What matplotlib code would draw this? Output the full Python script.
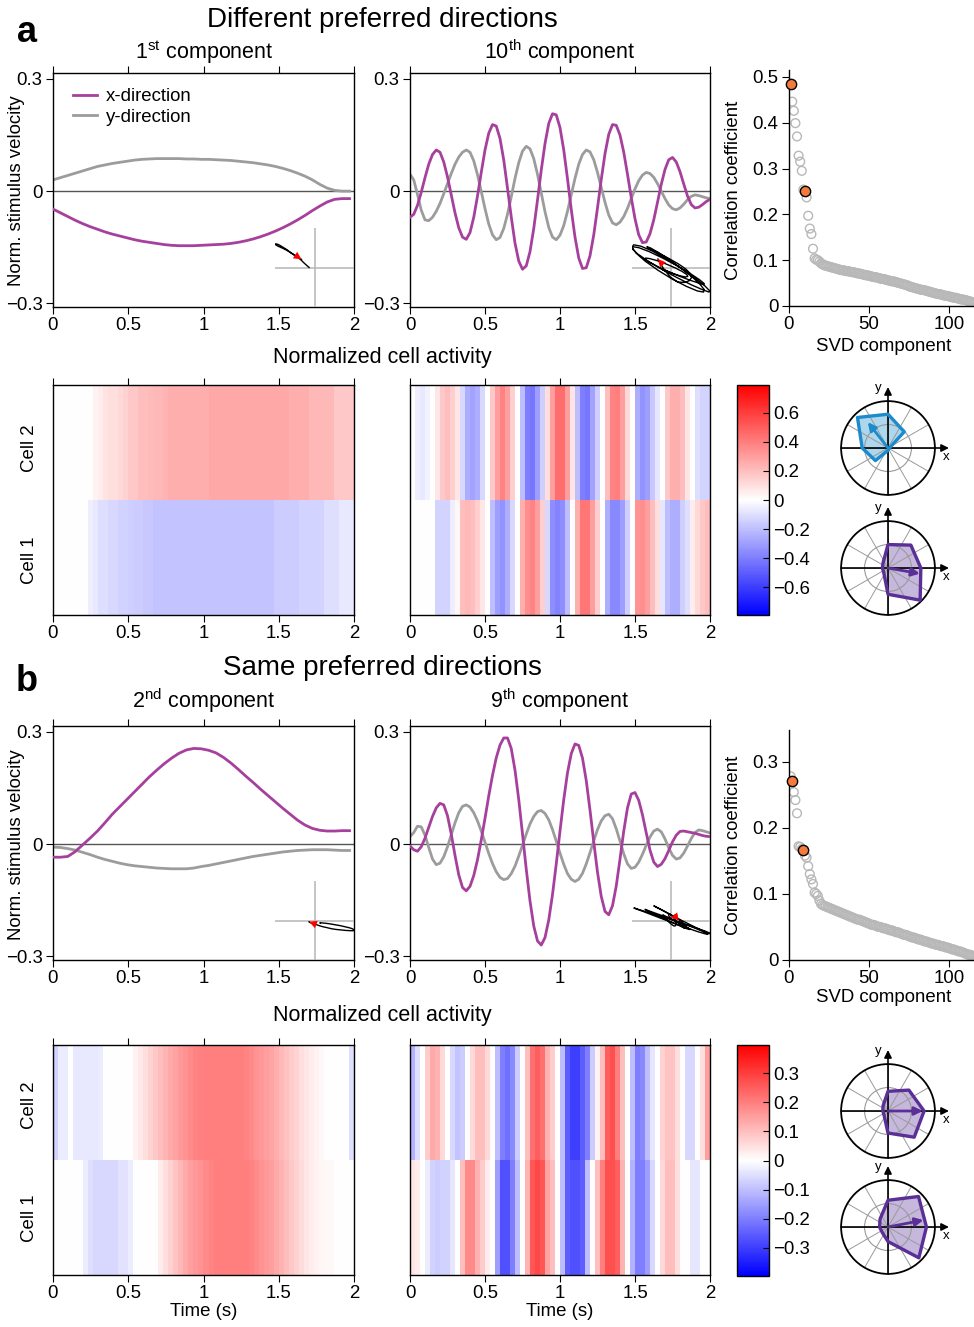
import numpy as np
import matplotlib
matplotlib.use("Agg")
import matplotlib.pyplot as plt
from matplotlib.ticker import FuncFormatter
from matplotlib.patches import Circle, Polygon

# ---------------------------------------------------------------
# data
# ---------------------------------------------------------------
t_slow = np.linspace(0, 1.97, 41)      # 1st / 2nd component sampling
t_fast = np.linspace(0, 2.0, 81)       # 10th / 9th component sampling

a1_x = [-0.048, -0.058, -0.068, -0.078, -0.087, -0.095, -0.102, -0.109, -0.115, -0.120,
        -0.125, -0.130, -0.134, -0.137, -0.140, -0.143, -0.145, -0.146, -0.146, -0.146,
        -0.145, -0.144, -0.143, -0.142, -0.140, -0.137, -0.133, -0.128, -0.122, -0.115,
        -0.107, -0.098, -0.088, -0.077, -0.065, -0.052, -0.040, -0.029, -0.022, -0.020,
        -0.020]
a1_y = [0.030, 0.036, 0.042, 0.048, 0.054, 0.060, 0.066, 0.070, 0.074, 0.077,
        0.080, 0.083, 0.085, 0.086, 0.087, 0.087, 0.087, 0.087, 0.086, 0.086,
        0.085, 0.085, 0.084, 0.083, 0.082, 0.080, 0.078, 0.076, 0.073, 0.070,
        0.066, 0.061, 0.055, 0.048, 0.040, 0.030, 0.018, 0.008, 0.002, 0.000,
        0.000]

a10_x = [-0.070, -0.062, -0.038, -0.003, 0.036, 0.072, 0.098, 0.110,
         0.104, 0.078, 0.038, -0.010, -0.058, -0.098, -0.123, -0.129,
         -0.111, -0.070, -0.013, 0.050, 0.110, 0.155, 0.178, 0.174,
         0.141, 0.083, 0.008, -0.069, -0.139, -0.187, -0.209, -0.200,
         -0.162, -0.100, -0.024, 0.056, 0.127, 0.181, 0.207, 0.204,
         0.170, 0.110, 0.033, -0.049, -0.123, -0.179, -0.207, -0.205,
         -0.173, -0.117, -0.045, 0.031, 0.100, 0.152, 0.178, 0.176,
         0.150, 0.104, 0.045, -0.017, -0.074, -0.117, -0.138, -0.136,
         -0.114, -0.077, -0.030, 0.018, 0.058, 0.084, 0.090, 0.078,
         0.052, 0.019, -0.013, -0.036, -0.045, -0.043, -0.036, -0.028,
         -0.022]
a10_y = [0.045, 0.030, -0.009, -0.051, -0.077, -0.079, -0.070, -0.054,
         -0.033, -0.007, 0.020, 0.047, 0.072, 0.091, 0.104, 0.110,
         0.104, 0.081, 0.044, -0.001, -0.047, -0.088, -0.117, -0.130,
         -0.124, -0.100, -0.062, -0.015, 0.034, 0.076, 0.107, 0.120,
         0.113, 0.087, 0.045, -0.005, -0.055, -0.097, -0.123, -0.130,
         -0.118, -0.092, -0.054, -0.010, 0.034, 0.072, 0.098, 0.110,
         0.105, 0.084, 0.050, 0.010, -0.030, -0.064, -0.085, -0.090,
         -0.083, -0.068, -0.046, -0.020, 0.006, 0.028, 0.043, 0.050,
         0.047, 0.037, 0.020, 0.000, -0.020, -0.037, -0.047, -0.050,
         -0.045, -0.035, -0.023, -0.014, -0.010, -0.012, -0.015, -0.018,
         -0.020]

b2_x = [-0.035, -0.035, -0.033, -0.020, -0.002, 0.016, 0.035, 0.057, 0.080, 0.100,
        0.120, 0.140, 0.160, 0.180, 0.198, 0.215, 0.230, 0.243, 0.252, 0.256,
        0.255, 0.251, 0.244, 0.232, 0.217, 0.200, 0.182, 0.165, 0.147, 0.130,
        0.113, 0.096, 0.080, 0.064, 0.051, 0.042, 0.037, 0.035, 0.035, 0.036,
        0.036]
b2_y = [-0.008, -0.009, -0.012, -0.016, -0.022, -0.028, -0.035, -0.041, -0.046, -0.051,
        -0.055, -0.058, -0.060, -0.062, -0.064, -0.065, -0.066, -0.066, -0.066, -0.064,
        -0.060, -0.057, -0.053, -0.049, -0.045, -0.041, -0.037, -0.033, -0.030, -0.027,
        -0.024, -0.021, -0.019, -0.017, -0.016, -0.015, -0.015, -0.015, -0.016, -0.017,
        -0.017]

b9_x = [-0.005, -0.015, -0.019, -0.007, 0.016, 0.045, 0.074, 0.097,
        0.109, 0.105, 0.076, 0.027, -0.030, -0.082, -0.116, -0.125,
        -0.113, -0.084, -0.042, 0.011, 0.069, 0.129, 0.184, 0.231,
        0.265, 0.284, 0.284, 0.256, 0.198, 0.119, 0.027, -0.067,
        -0.152, -0.219, -0.259, -0.270, -0.250, -0.203, -0.135, -0.053,
        0.035, 0.119, 0.191, 0.242, 0.268, 0.264, 0.230, 0.170,
        0.091, 0.006, -0.075, -0.140, -0.180, -0.189, -0.165, -0.112,
        -0.040, 0.035, 0.097, 0.134, 0.138, 0.117, 0.078, 0.030,
        -0.016, -0.048, -0.060, -0.054, -0.039, -0.017, 0.006, 0.024,
        0.034, 0.035, 0.033, 0.031, 0.029, 0.026, 0.023, 0.021,
        0.020]
b9_y = [0.020, 0.031, 0.048, 0.046, 0.024, -0.009, -0.040, -0.055,
        -0.051, -0.034, -0.007, 0.025, 0.057, 0.084, 0.101, 0.105,
        0.099, 0.084, 0.062, 0.035, 0.005, -0.025, -0.052, -0.074,
        -0.089, -0.095, -0.092, -0.079, -0.059, -0.032, -0.003, 0.027,
        0.054, 0.074, 0.087, 0.090, 0.082, 0.065, 0.039, 0.008,
        -0.024, -0.054, -0.079, -0.094, -0.100, -0.094, -0.078, -0.053,
        -0.023, 0.009, 0.039, 0.062, 0.076, 0.080, 0.068, 0.041,
        0.008, -0.026, -0.053, -0.065, -0.062, -0.048, -0.027, -0.003,
        0.019, 0.035, 0.040, 0.033, 0.014, -0.010, -0.030, -0.040,
        -0.037, -0.024, -0.005, 0.015, 0.031, 0.038, 0.036, 0.033,
        0.030]

# normalized cell activity, 60 bins of 1/30 s
t_bins = np.linspace(0, 2, 61)
ha1_cell2 = [0, 0, 0, 0, 0, 0, 0, 0, 0.04, 0.06,
             0.09, 0.10, 0.10, 0.12, 0.14, 0.17, 0.17, 0.20, 0.20, 0.21,
             0.22, 0.22, 0.23, 0.25, 0.25, 0.25, 0.25, 0.25, 0.25, 0.25,
             0.25, 0.27, 0.27, 0.27, 0.27, 0.27, 0.27, 0.27, 0.27, 0.27,
             0.27, 0.27, 0.27, 0.27, 0.27, 0.27, 0.27, 0.25, 0.25, 0.25,
             0.25, 0.22, 0.22, 0.22, 0.22, 0.22, 0.17, 0.17, 0.17, 0.17]
ha1_cell1 = [0, 0, 0, 0, 0, 0, 0, -0.05, -0.07, -0.10,
             -0.10, -0.12, -0.12, -0.14, -0.14, -0.15, -0.16, -0.16, -0.17, -0.17,
             -0.18, -0.18, -0.18, -0.18, -0.18, -0.18, -0.18, -0.18, -0.18, -0.18,
             -0.18, -0.18, -0.18, -0.18, -0.18, -0.18, -0.18, -0.18, -0.18, -0.18,
             -0.18, -0.18, -0.18, -0.18, -0.16, -0.16, -0.16, -0.16, -0.16, -0.13,
             -0.13, -0.13, -0.13, -0.13, -0.10, -0.10, -0.10, -0.07, -0.07, -0.07]
ha10_cell2 = [0.00, -0.05, -0.07, -0.04, 0.00, 0.08, 0.17, 0.20, 0.15, 0.08,
              -0.12, -0.25, -0.28, -0.25, -0.12, 0.00, 0.17, 0.30, 0.38, 0.30,
              0.15, 0.00, -0.20, -0.40, -0.42, -0.30, -0.15, 0.10, 0.30, 0.45,
              0.45, 0.30, 0.08, -0.20, -0.40, -0.42, -0.28, -0.15, 0.00, 0.20,
              0.38, 0.40, 0.30, 0.12, 0.00, -0.25, -0.33, -0.30, -0.17, -0.08,
              0.00, 0.17, 0.25, 0.25, 0.20, 0.08, 0.00, -0.10, -0.13, -0.13]
ha10_cell1 = [0, 0, 0, 0, 0, -0.13, -0.13, -0.13, -0.05, 0.03,
              0.20, 0.22, 0.20, 0.15, 0.08, 0.00, -0.20, -0.30, -0.33, -0.25,
              -0.12, 0.00, 0.25, 0.35, 0.38, 0.30, 0.15, -0.12, -0.35, -0.38,
              -0.35, -0.20, 0.00, 0.25, 0.42, 0.42, 0.30, 0.15, 0.00, -0.25,
              -0.37, -0.37, -0.30, -0.15, 0.00, 0.33, 0.35, 0.30, 0.20, 0.10,
              -0.08, -0.20, -0.25, -0.25, -0.15, -0.10, 0.06, 0.12, 0.17, 0.20]
hb2_cell2 = [-0.07, -0.03, -0.03, 0.00, -0.035, -0.035, -0.035, -0.035, -0.035, -0.03,
             0, 0, 0, 0, 0, 0, 0.02, 0.035, 0.05, 0.07,
             0.085, 0.10, 0.115, 0.13, 0.145, 0.16, 0.17, 0.18, 0.19, 0.195,
             0.20, 0.20, 0.20, 0.20, 0.20, 0.20, 0.20, 0.20, 0.19, 0.18,
             0.17, 0.16, 0.15, 0.14, 0.125, 0.11, 0.095, 0.08, 0.065, 0.05,
             0.04, 0.03, 0.02, 0.01, 0, 0, 0, 0, 0, -0.05]
hb2_cell1 = [0, 0, 0, 0, 0, 0, -0.03, -0.05, -0.06, -0.06,
             -0.06, -0.06, -0.06, -0.045, -0.045, -0.03, 0, 0, 0, 0,
             0, 0.03, 0.05, 0.07, 0.09, 0.11, 0.13, 0.15, 0.16, 0.17,
             0.18, 0.19, 0.20, 0.20, 0.20, 0.20, 0.20, 0.20, 0.20, 0.19,
             0.18, 0.17, 0.16, 0.15, 0.13, 0.12, 0.10, 0.085, 0.07, 0.055,
             0.04, 0.03, 0.02, 0.015, 0.01, 0.01, 0, 0, 0, 0]
hb9_cell2 = [-0.12, -0.05, 0.00, 0.08, 0.13, 0.12, 0.06, 0.00, -0.06, -0.09,
             -0.08, 0.00, 0.06, 0.10, 0.10, 0.06, 0.00, -0.10, -0.20, -0.22,
             -0.18, -0.08, 0.00, 0.10, 0.22, 0.25, 0.22, 0.12, 0.08, 0.00,
             -0.10, -0.25, -0.30, -0.30, -0.25, -0.20, -0.08, 0.02, 0.10, 0.25,
             0.27, 0.20, 0.10, 0.00, -0.10, -0.20, -0.18, -0.10, -0.04, 0.00,
             0.07, 0.09, 0.09, 0.05, 0.00, -0.06, -0.06, 0.00, 0.05, 0.15]
hb9_cell1 = [0.04, 0.03, 0.00, -0.03, -0.07, -0.08, -0.07, -0.07, -0.04, 0.00,
             0.10, 0.18, 0.18, 0.12, 0.08, 0.03, 0.00, -0.15, -0.27, -0.27,
             -0.20, -0.10, 0.00, 0.12, 0.26, 0.28, 0.26, 0.14, 0.10, 0.00,
             -0.10, -0.25, -0.27, -0.27, -0.25, -0.10, 0.00, 0.10, 0.20, 0.27,
             0.27, 0.25, 0.12, 0.00, -0.12, -0.20, -0.20, -0.15, -0.06, 0.00,
             0.06, 0.10, 0.10, 0.05, 0.00, 0.00, -0.04, -0.04, 0.00, 0.00]

# correlation coefficient per SVD component (1..120)
svd_comp = np.arange(1, 121)
corr_a = [0.485, 0.446, 0.426, 0.399, 0.370, 0.328, 0.315, 0.295, 0.254, 0.250,
          0.237, 0.197, 0.169, 0.157, 0.125, 0.104, 0.101, 0.100, 0.097, 0.093,
          0.091, 0.089, 0.088, 0.087, 0.086, 0.085, 0.084, 0.083, 0.082, 0.081,
          0.080, 0.079, 0.078, 0.078, 0.077, 0.076, 0.076, 0.075, 0.074, 0.074,
          0.073, 0.072, 0.071, 0.071, 0.070, 0.069, 0.068, 0.067, 0.067, 0.066,
          0.065, 0.064, 0.063, 0.063, 0.062, 0.061, 0.060, 0.059, 0.059, 0.058,
          0.057, 0.056, 0.055, 0.054, 0.054, 0.053, 0.052, 0.051, 0.050, 0.049,
          0.048, 0.047, 0.046, 0.045, 0.043, 0.042, 0.041, 0.040, 0.039, 0.038,
          0.037, 0.036, 0.035, 0.035, 0.034, 0.033, 0.032, 0.031, 0.030, 0.029,
          0.028, 0.027, 0.026, 0.026, 0.025, 0.024, 0.023, 0.022, 0.022, 0.021,
          0.020, 0.019, 0.018, 0.018, 0.017, 0.016, 0.015, 0.014, 0.014, 0.013,
          0.012, 0.011, 0.010, 0.009, 0.008, 0.007, 0.006, 0.005, 0.004, 0.003]
corr_b = [0.278, 0.271, 0.254, 0.242, 0.222, 0.172, 0.171, 0.168, 0.166, 0.158,
          0.155, 0.142, 0.130, 0.122, 0.115, 0.102, 0.100, 0.097, 0.090, 0.085,
          0.083, 0.082, 0.081, 0.080, 0.079, 0.078, 0.077, 0.076, 0.075, 0.074,
          0.073, 0.072, 0.071, 0.070, 0.069, 0.068, 0.067, 0.066, 0.065, 0.064,
          0.063, 0.062, 0.061, 0.061, 0.060, 0.059, 0.058, 0.057, 0.056, 0.055,
          0.054, 0.053, 0.053, 0.052, 0.051, 0.050, 0.050, 0.049, 0.048, 0.048,
          0.047, 0.046, 0.045, 0.045, 0.044, 0.043, 0.042, 0.042, 0.041, 0.040,
          0.039, 0.038, 0.038, 0.037, 0.036, 0.035, 0.034, 0.034, 0.033, 0.032,
          0.031, 0.031, 0.030, 0.029, 0.028, 0.028, 0.027, 0.026, 0.025, 0.025,
          0.024, 0.023, 0.023, 0.022, 0.021, 0.021, 0.020, 0.019, 0.019, 0.018,
          0.017, 0.016, 0.016, 0.015, 0.014, 0.013, 0.013, 0.012, 0.011, 0.010,
          0.009, 0.008, 0.008, 0.007, 0.006, 0.005, 0.004, 0.004, 0.003, 0.002]
sel_a = [1, 10]
sel_b = [2, 9]

# directional tuning (8 directions, normalised radius) + preferred-direction vector
tune_dirs = [0, 45, 90, 135, 180, 225, 270, 315]
tune_a_cell2 = [0.03, 0.49, 0.72, 0.92, 0.55, 0.38, 0.05, 0.02]
tune_a_cell1 = [0.70, 0.69, 0.50, 0.15, 0.12, 0.13, 0.56, 0.97]
tune_b_cell2 = [0.77, 0.63, 0.42, 0.15, 0.11, 0.12, 0.47, 0.79]
tune_b_cell1 = [0.82, 0.92, 0.57, 0.24, 0.18, 0.17, 0.31, 0.93]
pref_a_cell2 = (128, 0.70)
pref_a_cell1 = (-10, 0.69)
pref_b_cell2 = (0, 0.74)
pref_b_cell1 = (11, 0.77)

# ---------------------------------------------------------------
# style
# ---------------------------------------------------------------
plt.rcParams.update({
    "font.family": ["Liberation Sans", "DejaVu Sans"],
    "font.size": 13.4,
    "mathtext.fontset": "custom",
    "mathtext.rm": "Liberation Sans",
    "mathtext.it": "Liberation Sans:italic",
    "mathtext.bf": "Liberation Sans:bold",
    "axes.linewidth": 1.0,
    "xtick.direction": "out",
    "ytick.direction": "out",
    "xtick.major.size": 5,
    "ytick.major.size": 5,
    "xtick.major.pad": 2.5,
    "ytick.major.pad": 2.5,
})

MAG = "#a6409c"
GRY = "#9c9c9c"
ORANGE = "#f47b3b"

W, H = 974, 1327
fig = plt.figure(figsize=(W / 100, H / 100), dpi=100)


def box(x0, y0, x1, y1):
    return [x0 / W, 1 - y1 / H, (x1 - x0) / W, (y1 - y0) / H]


def fmt(v, pos=None):
    s = f"{round(v, 6):g}"
    if s == "-0":
        s = "0"
    return s.replace("-", "\u2212")


def line_panel(rect, t, vx, vy, legend=False):
    ax = fig.add_axes(rect)
    ax.axhline(0, color="#555555", lw=1.0, zorder=1)
    ax.plot(t, vy, color=GRY, lw=2.0, label="y-direction", zorder=2)
    ax.plot(t, vx, color=MAG, lw=2.0, label="x-direction", zorder=3)
    ax.set_xlim(0, 2)
    ax.set_ylim(-0.31, 0.316)
    ax.set_xticks([0, 0.5, 1, 1.5, 2])
    ax.set_yticks([-0.3, 0, 0.3])
    ax.xaxis.set_major_formatter(FuncFormatter(fmt))
    ax.yaxis.set_major_formatter(FuncFormatter(fmt))
    ax.tick_params(top=True, labeltop=False)
    if legend:
        h, l = ax.get_legend_handles_labels()
        ax.legend(h[::-1], l[::-1], loc="upper left", bbox_to_anchor=(0.065, 0.935),
                  frameon=False, borderpad=0, borderaxespad=0, handlelength=1.3,
                  handletextpad=0.5, labelspacing=0.2)
    return ax


def traj_inset(rect, vx, vy):
    ax = fig.add_axes(rect)
    ax.patch.set_alpha(0)
    ax.axis("off")
    vx = np.asarray(vx)
    vy = np.asarray(vy)
    lim = max(np.abs(vx).max(), np.abs(vy).max())
    ax.axhline(0, color="#b5b5b5", lw=1.1)
    ax.axvline(0, color="#b5b5b5", lw=1.1)
    ax.plot(vx, vy, color="black", lw=1.0)
    k = 4 if len(vx) > 60 else 6
    ax.annotate("", xy=(vx[0], vy[0]), xytext=(vx[k], vy[k]),
                arrowprops=dict(arrowstyle="-|>", color="red", lw=0,
                                mutation_scale=14, shrinkA=0, shrinkB=0))
    ax.set_xlim(-lim, lim)
    ax.set_ylim(-lim, lim)


def heat_panel(rect, cell1, cell2, vlim):
    ax = fig.add_axes(rect)
    im = ax.imshow(np.array([cell1, cell2]), origin="lower", aspect="auto",
                   extent=(t_bins[0], t_bins[-1], 0, 2), cmap="bwr",
                   vmin=-vlim, vmax=vlim, interpolation="nearest")
    ax.set_xticks([0, 0.5, 1, 1.5, 2])
    ax.xaxis.set_major_formatter(FuncFormatter(fmt))
    ax.set_yticks([])
    ax.tick_params(top=True, labeltop=False)
    return ax, im


def colorbar(rect, im, ticks):
    cax = fig.add_axes(rect)
    cb = fig.colorbar(im, cax=cax)
    cb.set_ticks(ticks)
    cb.ax.yaxis.set_major_formatter(FuncFormatter(fmt))
    cb.ax.tick_params(direction="in", length=4, pad=3)
    cb.outline.set_linewidth(1.0)


def scatter_panel(rect, corr, sel, ytop, yticks):
    ax = fig.add_axes(rect)
    ax.scatter(svd_comp, corr, s=40, facecolors="none", edgecolors="#b8b8b8",
               linewidths=1.0, zorder=2)
    idx = [c - 1 for c in sel]
    ax.scatter(np.asarray(svd_comp)[idx], np.asarray(corr)[idx], s=55,
               facecolors=ORANGE, edgecolors="black", linewidths=1.0,
               zorder=3, clip_on=False)
    ax.set_xlim(0, 115.6)
    ax.set_ylim(0, ytop)
    ax.set_xticks([0, 50, 100])
    ax.set_yticks(yticks)
    ax.yaxis.set_major_formatter(FuncFormatter(fmt))
    for s in ("top", "right"):
        ax.spines[s].set_visible(False)
    return ax


def polar_panel(cx, cy, radii, pref, edge, face):
    half = 68
    ax = fig.add_axes(box(cx - half, cy - half, cx + half, cy + half))
    ax.set_xlim(-1.45, 1.45)
    ax.set_ylim(-1.45, 1.45)
    ax.set_aspect("equal")
    ax.axis("off")
    th = np.deg2rad(tune_dirs)
    pts = np.column_stack([np.asarray(radii) * np.cos(th), np.asarray(radii) * np.sin(th)])
    ax.add_patch(Polygon(pts, closed=True, fc=face, ec="none", zorder=1))
    for ang in np.deg2rad(np.arange(0, 360, 30)):
        ax.plot([0, np.cos(ang)], [0, np.sin(ang)], color="#9a9a9a", lw=0.7, zorder=2)
    ax.add_patch(Circle((0, 0), 0.5, fill=False, ec="#9a9a9a", lw=0.8, zorder=2))
    ax.add_patch(Circle((0, 0), 1.0, fill=False, ec="black", lw=1.3, zorder=2))
    for xy, xyt in (((1.3, 0), (-1, 0)), ((0, 1.3), (0, -1))):
        ax.annotate("", xy=xy, xytext=xyt, zorder=2,
                    arrowprops=dict(arrowstyle="-|>", color="black", lw=1.2,
                                    mutation_scale=11, shrinkA=0, shrinkB=0))
    ax.text(1.24, -0.2, "x", fontsize=9.5, ha="center", va="center")
    ax.text(-0.2, 1.28, "y", fontsize=9.5, ha="center", va="center")
    ax.add_patch(Polygon(pts, closed=True, fill=False, ec=edge, lw=2.4,
                         joinstyle="round", zorder=3))
    pa, pr = pref
    ax.annotate("", xy=(pr * np.cos(np.deg2rad(pa)), pr * np.sin(np.deg2rad(pa))),
                xytext=(0, 0), zorder=4,
                arrowprops=dict(arrowstyle="-|>", color=edge, lw=2.0,
                                mutation_scale=12, shrinkA=0, shrinkB=0))


# ---------------------------------------------------------------
# panel a : different preferred directions
# ---------------------------------------------------------------
line_panel(box(53, 73, 354, 307), t_slow, a1_x, a1_y, legend=True)
line_panel(box(410, 73, 710, 307), t_fast, a10_x, a10_y)
traj_inset(box(275, 228, 354, 307), a1_x, a1_y)
traj_inset(box(632, 228, 710, 307), a10_x, a10_y)
scatter_panel(box(789, 70, 974, 306), corr_a, sel_a, 0.515, [0, 0.1, 0.2, 0.3, 0.4, 0.5])

heat_panel(box(53, 385, 354, 615), ha1_cell1, ha1_cell2, 0.79)
_, im_a = heat_panel(box(410, 385, 710, 615), ha10_cell1, ha10_cell2, 0.79)
colorbar(box(737, 385, 769, 615), im_a, [-0.6, -0.4, -0.2, 0, 0.2, 0.4, 0.6])

polar_panel(888, 448, tune_a_cell2, pref_a_cell2, "#1b8bcb", (0.37, 0.69, 0.86, 0.5))
polar_panel(888, 568, tune_a_cell1, pref_a_cell1, "#5a2f96", (0.55, 0.45, 0.73, 0.5))

# ---------------------------------------------------------------
# panel b : same preferred directions
# ---------------------------------------------------------------
line_panel(box(53, 726, 354, 960), t_slow, b2_x, b2_y)
line_panel(box(410, 726, 710, 960), t_fast, b9_x, b9_y)
traj_inset(box(275, 881, 354, 960), b2_x, b2_y)
traj_inset(box(632, 881, 710, 960), b9_x, b9_y)
scatter_panel(box(789, 730, 974, 960), corr_b, sel_b, 0.348, [0, 0.1, 0.2, 0.3])

heat_panel(box(53, 1045, 354, 1275), hb2_cell1, hb2_cell2, 0.396)
_, im_b = heat_panel(box(410, 1045, 710, 1275), hb9_cell1, hb9_cell2, 0.396)
colorbar(box(737, 1045, 769, 1276), im_b, [-0.3, -0.2, -0.1, 0, 0.1, 0.2, 0.3])

polar_panel(888, 1111, tune_b_cell2, pref_b_cell2, "#5a2f96", (0.55, 0.45, 0.73, 0.5))
polar_panel(888, 1227, tune_b_cell1, pref_b_cell1, "#5a2f96", (0.55, 0.45, 0.73, 0.5))

# ---------------------------------------------------------------
# text
# ---------------------------------------------------------------
def ftext(x, y, s, **kw):
    kw.setdefault("ha", "center")
    kw.setdefault("va", "center")
    fig.text(x / W, 1 - y / H, s, **kw)


ftext(27, 32, "a", fontsize=26, fontweight="bold")
ftext(27, 681, "b", fontsize=26, fontweight="bold")
ftext(382, 20, "Different preferred directions", fontsize=20)
ftext(382, 668, "Same preferred directions", fontsize=20)
ftext(204, 52, "1$^{\\mathrm{st}}$ component", fontsize=15.5)
ftext(560, 52, "10$^{\\mathrm{th}}$ component", fontsize=15.5)
ftext(204, 701, "2$^{\\mathrm{nd}}$ component", fontsize=15.5)
ftext(560, 701, "9$^{\\mathrm{th}}$ component", fontsize=15.5)
ftext(382, 358, "Normalized cell activity", fontsize=15.5)
ftext(382, 1016, "Normalized cell activity", fontsize=15.5)

ftext(17, 191, "Norm. stimulus velocity", rotation=90)
ftext(17, 845, "Norm. stimulus velocity", rotation=90)
ftext(733, 190, "Correlation coefficient", rotation=90)
ftext(733, 845, "Correlation coefficient", rotation=90)
ftext(884, 347, "SVD component")
ftext(884, 997, "SVD component")

for yc, lab in ((448, "Cell 2"), (560, "Cell 1"), (1105, "Cell 2"), (1218, "Cell 1")):
    ftext(30, yc, lab, rotation=90)

ftext(204, 1312, "Time (s)")
ftext(560, 1312, "Time (s)")

fig.savefig("out.png", dpi=100)
